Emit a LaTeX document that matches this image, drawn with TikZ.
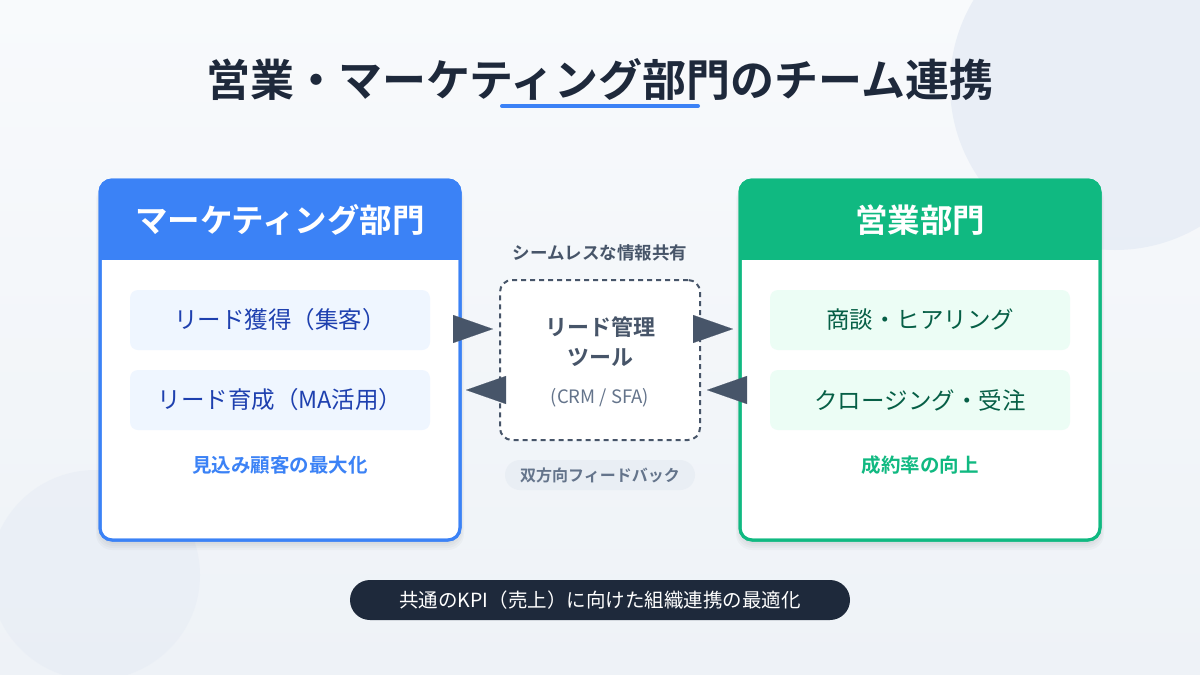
\documentclass[tikz,border=0pt]{standalone}
\usepackage{fontspec}
\setmainfont{Noto Sans CJK JP}[BoldFont={Noto Sans CJK JP Bold}]
\usetikzlibrary{arrows.meta}
\definecolor{bgA}{HTML}{F8FAFC}
\definecolor{bgB}{HTML}{EEF2F7}
\definecolor{circ}{HTML}{E6ECF5}
\definecolor{navy}{HTML}{1E293B}
\definecolor{mblue}{HTML}{3B82F6}
\definecolor{mitem}{HTML}{EFF6FF}
\definecolor{mtext}{HTML}{1E40AF}
\definecolor{sgreen}{HTML}{10B981}
\definecolor{sitem}{HTML}{ECFDF5}
\definecolor{stext}{HTML}{065F46}
\definecolor{slate}{HTML}{475569}
\definecolor{slate2}{HTML}{64748B}
\definecolor{pillbg}{HTML}{E9EEF4}
\tikzset{
  dept/.style={draw=#1, line width=3pt, rounded corners=12pt, fill=white, minimum width=360pt, minimum height=360pt, inner sep=0pt},
  hdrtext/.style={text=white, font=\bfseries\fontsize{32.5}{38}\selectfont},
  itembox/.style={fill=#1, rounded corners=8pt, minimum width=300pt, minimum height=60pt, inner sep=0pt},
  itemtext/.style={text=#1, font=\fontsize{23.5}{28}\selectfont},
  captext/.style={text=#1, font=\bfseries\fontsize{19.5}{23}\selectfont},
  tri/.style={-{Triangle[length=40pt,width=28pt]}, draw=slate, line width=0.1pt},
  shadowbox/.style={fill=black, opacity=0.025, rounded corners=16pt}
}
\begin{document}
\begin{tikzpicture}[x=1pt,y=-1pt]
% background
\shade[left color=bgA, right color=bgB, shading angle=0] (0,0) rectangle (1200,675);
\useasboundingbox (0,0) rectangle (1200,675);
\begin{scope}
\clip (0,0) rectangle (1200,675);
\fill[circ, opacity=0.8] (1115,85) circle (165);
\fill[circ, opacity=0.5] (95,575) circle (105);
\end{scope}

% title
\node[text=navy, font=\bfseries\fontsize{44}{52}\selectfont] (title) at (600,80) {営業・マーケティング部門のチーム連携};
\draw[mblue, line width=4pt, line cap=round] (502,106) -- (698,106);

% shadows
\foreach \d in {2,4,6,8}{
  \fill[shadowbox] (100-\d/2,184) rectangle (460+\d/2,542+\d);
  \fill[shadowbox] (740-\d/2,184) rectangle (1100+\d/2,542+\d);
}

% marketing department
\node[dept=mblue] (mk) at (280,360) {};
\begin{scope}
\clip[rounded corners=12pt] (100,180) rectangle (460,540);
\fill[mblue] (100,180) rectangle (460,260);
\end{scope}
\draw[mblue, line width=3pt, rounded corners=12pt] (100,180) rectangle (460,540);
\node[hdrtext] (mkh) at (280,220) {マーケティング部門};
\node[itembox=mitem] (mk1) at (280,320) {};
\node[itemtext=mtext] at (mk1) {リード獲得（集客）};
\node[itembox=mitem] (mk2) at (280,400) {};
\node[itemtext=mtext] at (mk2) {リード育成（MA活用）};
\node[captext=mblue] (mkc) at (280,465) {見込み顧客の最大化};

% sales department
\node[dept=sgreen] (sl) at (920,360) {};
\begin{scope}
\clip[rounded corners=12pt] (740,180) rectangle (1100,540);
\fill[sgreen] (740,180) rectangle (1100,260);
\end{scope}
\draw[sgreen, line width=3pt, rounded corners=12pt] (740,180) rectangle (1100,540);
\node[hdrtext] (slh) at (920,220) {営業部門};
\node[itembox=sitem] (sl1) at (920,320) {};
\node[itemtext=stext] at (sl1) {商談・ヒアリング};
\node[itembox=sitem] (sl2) at (920,400) {};
\node[itemtext=stext] at (sl2) {クロージング・受注};
\node[captext=sgreen] (slc) at (920,465) {成約率の向上};

% center tool
\node[text=slate, font=\bfseries\fontsize{17.5}{21}\selectfont] (share) at (600,253) {シームレスな情報共有};
\node[draw=slate, dashed, dash pattern=on 5pt off 4pt, line width=2pt, rounded corners=12pt, fill=white, minimum width=200pt, minimum height=160pt] (tool) at (600,360) {};
\node[text=slate, font=\bfseries\fontsize{22}{30}\selectfont, align=center] (toolname) at (600,342) {リード管理\\ツール};
\node[text=slate2, font=\fontsize{18.5}{22}\selectfont] (toolsub) at (600,398) {(CRM / SFA)};
\node[fill=pillbg, rounded corners=15pt, minimum width=190pt, minimum height=30pt, text=slate2, font=\bfseries\fontsize{16}{19}\selectfont] (fb) at (600,475) {双方向フィードバック};

% arrows
\coordinate (a1s) at (453,329);
\coordinate (a1e) at (493,329);
\coordinate (a2s) at (505,390);
\coordinate (a2e) at (466,390);
\coordinate (a3s) at (693,329);
\coordinate (a3e) at (733,329);
\coordinate (a4s) at (746,390);
\coordinate (a4e) at (707,390);
\draw[tri] (a1s) -- (a1e);
\draw[tri] (a2s) -- (a2e);
\draw[tri] (a3s) -- (a3e);
\draw[tri] (a4s) -- (a4e);

% bottom pill
\node[fill=navy, rounded corners=20pt, minimum width=500pt, minimum height=40pt, text=white, font=\fontsize{19.5}{23}\selectfont] (kpi) at (600,600) {共通のKPI（売上）に向けた組織連携の最適化};
\end{tikzpicture}
\end{document}
